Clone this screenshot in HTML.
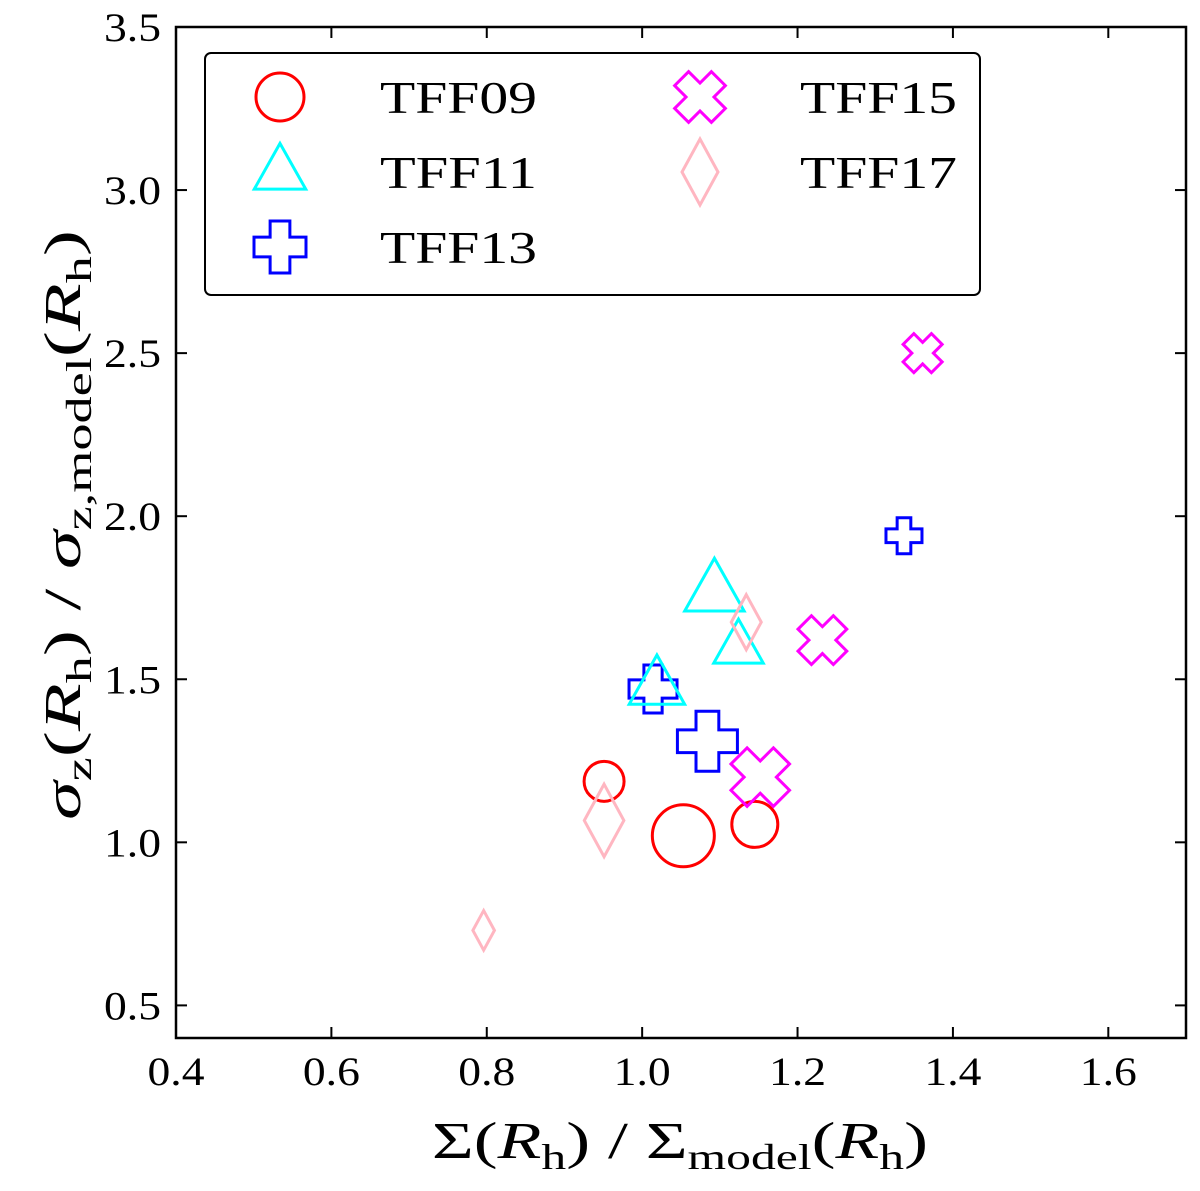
<!DOCTYPE html>
<html><head><meta charset="utf-8"><style>
body{margin:0;background:#fff}
svg text{font-family:"Liberation Serif","DejaVu Serif",serif;fill:#000}
</style></head><body>
<svg id="chart" width="1200" height="1186" xmlns="http://www.w3.org/2000/svg">
<g id="axes"></g><g id="marks"></g><g id="legend"></g>
</svg>
<script>
const xTicks=[0.4,0.6,0.8,1.0,1.2,1.4,1.6];
const yTicks=[0.5,1.0,1.5,2.0,2.5,3.0,3.5];
const seriesNames=["TFF09","TFF11","TFF13","TFF15","TFF17"];
const tff09X=[0.951,1.053,1.145], tff09Y=[1.187,1.02,1.055], tff09S=[20,31,23];
const tff11X=[1.093,1.019,1.124], tff11Y=[1.77,1.48,1.60], tff11S=[30,28,25];
const tff13X=[1.014,1.084,1.337], tff13Y=[1.47,1.31,1.94], tff13S=[24,30,18];
const tff15X=[1.361,1.232,1.152], tff15Y=[2.50,1.62,1.20], tff15S=[20,25,30];
const tff17X=[1.134,0.951,0.796], tff17Y=[1.675,1.067,0.73], tff17S=[25,33,18];

const L=176,R=1186,T=27,B=1038,x0=0.4,x1=1.7,y0=0.4,y1=3.5;
const sx=v=>L+(v-x0)/(x1-x0)*(R-L);
const sy=v=>B-(v-y0)/(y1-y0)*(B-T);
const NS="http://www.w3.org/2000/svg";
function mk(tag,attrs,parent){const e=document.createElementNS(NS,tag);for(const k in attrs)e.setAttribute(k,attrs[k]);parent.appendChild(e);return e;}
const axes=document.getElementById('axes'),marks=document.getElementById('marks'),leg=document.getElementById('legend');

const frame=mk('rect',{x:L,y:T,width:R-L,height:B-T,fill:'none',stroke:'#000','stroke-width':2.5},axes);


xTicks.forEach(v=>{const x=sx(v);
 mk('line',{x1:x,x2:x,y1:B,y2:B-11,stroke:'#000','stroke-width':2},axes);
 mk('line',{x1:x,x2:x,y1:T,y2:T+11,stroke:'#000','stroke-width':2},axes);
 const t=mk('text',{x:x,y:B+47,'text-anchor':'middle','font-size':40,textLength:57,lengthAdjust:'spacingAndGlyphs'},axes);t.textContent=v.toFixed(1);
 
 });
yTicks.forEach(v=>{const y=sy(v);
 mk('line',{x1:L,x2:L+11,y1:y,y2:y,stroke:'#000','stroke-width':2},axes);
 mk('line',{x1:R,x2:R-11,y1:y,y2:y,stroke:'#000','stroke-width':2},axes);
 const t=mk('text',{x:L-15,y:y+14,'text-anchor':'end','font-size':40,textLength:57,lengthAdjust:'spacingAndGlyphs'},axes);t.textContent=v.toFixed(1);
 
 });
const xt=mk('text',{x:680,y:1158,'text-anchor':'middle','font-size':52,textLength:496,lengthAdjust:'spacingAndGlyphs'},axes);
xt.innerHTML='Σ(<tspan font-style="italic">R</tspan><tspan font-size="36" dy="11">h</tspan><tspan dy="-11">) / Σ</tspan><tspan font-size="36" dy="11">model</tspan><tspan dy="-11">(</tspan><tspan font-style="italic">R</tspan><tspan font-size="36" dy="11">h</tspan><tspan dy="-11">)</tspan>';


const yt=mk('text',{x:0,y:0,'text-anchor':'middle','font-size':52,textLength:590,lengthAdjust:'spacingAndGlyphs',transform:'translate(80,525) rotate(-90)'},axes);
yt.innerHTML='<tspan font-style="italic">σ</tspan><tspan font-size="36" dy="11">z</tspan><tspan dy="-11">(</tspan><tspan font-style="italic">R</tspan><tspan font-size="36" dy="11">h</tspan><tspan dy="-11">) / </tspan><tspan font-style="italic">σ</tspan><tspan font-size="36" dy="11">z,model</tspan><tspan dy="-11">(</tspan><tspan font-style="italic">R</tspan><tspan font-size="36" dy="11">h</tspan><tspan dy="-11">)</tspan>';



const colors=['#ff0000','#00ffff','#0000ff','#ff00ff','#ffb6c1'];
function marker(kind,cx,cy,s,parent){
 const st={fill:'none',stroke:colors[kind],'stroke-width':3};let e;
 if(kind===0) e=mk('circle',Object.assign({cx:cx,cy:cy,r:s},st),parent);
 else if(kind===1){const h=s*1.1;e=mk('polygon',Object.assign({points:`${cx},${cy-h} ${cx-h*0.9},${cy+h*0.6} ${cx+h*0.9},${cy+h*0.6}`},st),parent);}
 else if(kind===2){const a=s,b=s*0.38;e=mk('polygon',Object.assign({points:`${cx-b},${cy-a} ${cx+b},${cy-a} ${cx+b},${cy-b} ${cx+a},${cy-b} ${cx+a},${cy+b} ${cx+b},${cy+b} ${cx+b},${cy+a} ${cx-b},${cy+a} ${cx-b},${cy+b} ${cx-a},${cy+b} ${cx-a},${cy-b} ${cx-b},${cy-b}`},st),parent);}
 else if(kind===3){const a=s,b=s*0.38;const pts=[[-b,-a],[b,-a],[b,-b],[a,-b],[a,b],[b,b],[b,a],[-b,a],[-b,b],[-a,b],[-a,-b],[-b,-b]].map(([u,v])=>{const c=Math.SQRT1_2;return (cx+(u-v)*c)+','+(cy+(u+v)*c);}).join(' ');
 e=mk('polygon',Object.assign({points:pts},st),parent);}
 else e=mk('polygon',Object.assign({points:`${cx},${cy-s*1.1} ${cx+s*0.6},${cy} ${cx},${cy+s*1.1} ${cx-s*0.6},${cy}`},st),parent);
 return e;}
const allX=[tff09X,tff11X,tff13X,tff15X,tff17X],allY=[tff09Y,tff11Y,tff13Y,tff15Y,tff17Y],allS=[tff09S,tff11S,tff13S,tff15S,tff17S];
const order=[0,2,1,3,4];
order.forEach(k=>{allX[k].forEach((v,i)=>{const e=marker(k,sx(v),sy(allY[k][i]),allS[k][i],marks);
 
 });});

const box=mk('rect',{x:205,y:53,width:775,height:242,rx:6,fill:'#fff',stroke:'#000','stroke-width':2},leg);


const lpos=[[280,97],[280,172],[280,247],[700,97],[700,172]];
seriesNames.forEach((n,k)=>{const [mx,my]=lpos[k];
 const g=mk('g',{},leg);
 
 
 marker(k,mx,my,k===0?24:(k===4?30:26),g);
 const t=mk('text',{x:mx+100,y:my+16,'font-size':46,textLength:157,lengthAdjust:'spacingAndGlyphs'},g);t.textContent=n;});
</script>
</body></html>
